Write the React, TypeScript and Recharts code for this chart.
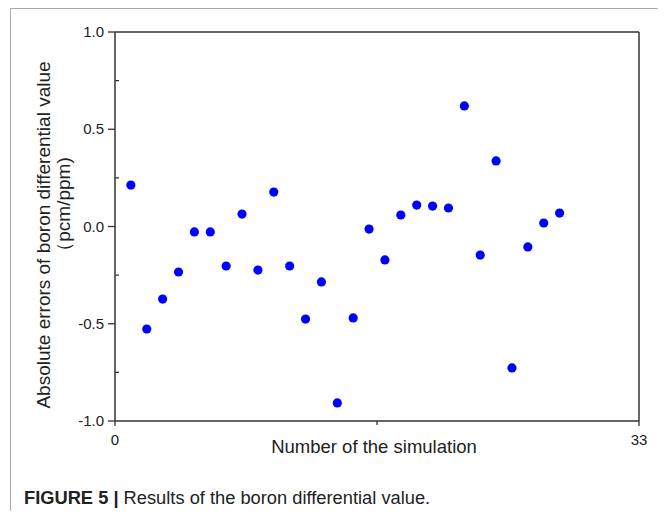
import { ScatterChart, Scatter, XAxis, YAxis, Label } from "recharts";

// simulation number vs absolute error (pcm/ppm)
const simulationNo = [1, 2, 3, 4, 5, 6, 7, 8, 9, 10, 11, 12, 13, 14, 15, 16, 17, 18, 19, 20, 21, 22, 23, 24, 25, 26, 27, 28];
const absErrors = [
  0.213, -0.527, -0.373, -0.234, -0.028, -0.028, -0.203, 0.064, -0.224, 0.177,
  -0.203, -0.476, -0.285, -0.907, -0.47, -0.013, -0.172, 0.059, 0.11, 0.105,
  0.095, 0.62, -0.147, 0.337, -0.727, -0.105, 0.018, 0.069,
];
const xTicks = [0, 16.5, 33];
const yTicks = [-1, -0.75, -0.5, -0.25, 0, 0.25, 0.5, 0.75, 1];

const data = simulationNo.map((n, i) => ({ x: n, y: absErrors[i] }));

const FONT = "'Liberation Sans', Arial, sans-serif";
const AXIS = "#333";

function XTick(props: any) {
  const { x, y, payload } = props;
  const major = payload.value === 0 || payload.value === 33;
  return (
    <g>
      <line x1={x} x2={x} y1={y} y2={y + (major ? 5 : 4)} stroke={AXIS} strokeWidth={1.3} />
      {major && (
        <text x={x} y={y + 24} textAnchor="middle" fontSize={15} fill="#222" fontFamily={FONT}>
          {payload.value}
        </text>
      )}
    </g>
  );
}

function YTick(props: any) {
  const { x, y, payload } = props;
  const major = Math.abs((payload.value * 2) % 1) < 1e-6;
  return (
    <g>
      {major ? (
        <line x1={x - 7} x2={x} y1={y} y2={y} stroke={AXIS} strokeWidth={1.3} />
      ) : (
        <line x1={x} x2={x + 4} y1={y} y2={y} stroke={AXIS} strokeWidth={1.3} />
      )}
      {major && (
        <text x={x - 11} y={y + 5} textAnchor="end" fontSize={15} fill="#222" fontFamily={FONT}>
          {payload.value.toFixed(1)}
        </text>
      )}
    </g>
  );
}

function YLabel() {
  return (
    <g fontFamily={FONT} fontSize={19} fill="#222">
      <text x={50} y={235} textAnchor="middle" transform="rotate(-90, 50, 235)">
        Absolute errors of boron differential value
      </text>
      <text x={70} y={209} textAnchor="middle" transform="rotate(-90, 70, 209)">
        （pcm/ppm)
      </text>
    </g>
  );
}

function Dot(props: any) {
  return <circle cx={props.cx} cy={props.cy} r={4.6} fill="#0000FF" />;
}

export default function App() {
  return (
    <div style={{ position: "relative", width: 666, height: 519, margin: -8, background: "#fff", overflow: "hidden" }}>
      <div
        style={{
          position: "absolute",
          left: 10,
          top: 8,
          width: 651,
          height: 530,
          borderTop: "1px solid #aaa",
          borderLeft: "1px solid #aaa",
          borderRight: "1px solid #aaa",
        }}
      />
      <div style={{ position: "absolute", left: 0, top: 0 }}>
        <ScatterChart width={666} height={519} margin={{ top: 31, right: 26, bottom: 97, left: 114 }}>
          <XAxis
            type="number"
            dataKey="x"
            domain={[0, 33]}
            ticks={xTicks}
            height={1}
            tickSize={0}
            tickMargin={0}
            tick={<XTick />}
            axisLine={{ stroke: AXIS, strokeWidth: 1.5 }}
            tickLine={false}
            interval={0}
          >
            <Label
              value="Number of the simulation"
              position="insideBottom"
              content={(p: any) => (
                <text x={374} y={p.viewBox.y + 32} textAnchor="middle" fontSize={18.5} fill="#222" fontFamily={FONT}>
                  Number of the simulation
                </text>
              )}
            />
          </XAxis>
          <XAxis xAxisId="top" orientation="top" type="number" domain={[0, 33]} height={1} tick={false} tickLine={false} axisLine={{ stroke: AXIS, strokeWidth: 1.5 }} />
          <YAxis
            type="number"
            dataKey="y"
            domain={[-1, 1]}
            ticks={yTicks}
            width={1}
            tickSize={0}
            tickMargin={0}
            tick={<YTick />}
            axisLine={{ stroke: AXIS, strokeWidth: 1.5 }}
            tickLine={false}
            interval={0}
          >
            <Label content={<YLabel />} />
          </YAxis>
          <YAxis yAxisId="right" orientation="right" type="number" domain={[-1, 1]} width={1} tick={false} tickLine={false} axisLine={{ stroke: AXIS, strokeWidth: 1.5 }} />
          <Scatter data={data} shape={<Dot />} isAnimationActive={false} />
        </ScatterChart>
      </div>
      <div
        style={{
          position: "absolute",
          left: 24,
          top: 487,
          fontFamily: FONT,
          fontSize: 18.3,
          color: "#222",
          whiteSpace: "nowrap",
        }}
      >
        <b>FIGURE 5 |</b> Results of the boron differential value.
      </div>
    </div>
  );
}
